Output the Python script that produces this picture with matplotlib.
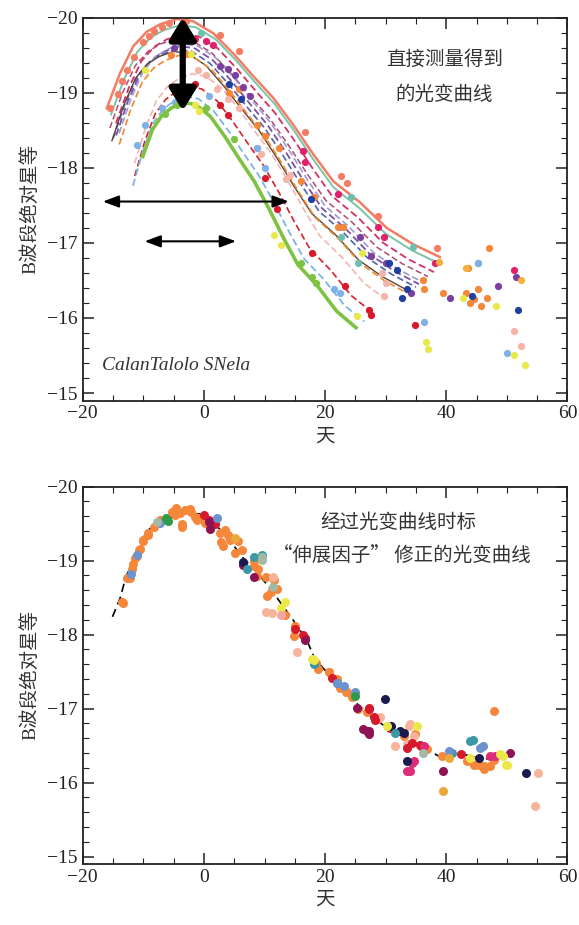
import matplotlib.pyplot as plt
from matplotlib.ticker import MultipleLocator

# ---- top panel: fitted light curves (day, B mag)
sal_day = [-16.05, -13.85, -11.65, -9.45, -7.25, -4.5, -1.75, 1.55, 4.85, 8.15, 11.45, 14.75, 18.05, 21.35, 25.75, 30.15, 34.55, 38.95]
sal_mag = [-18.79, -19.26, -19.62, -19.81, -19.91, -19.98, -19.95, -19.79, -19.52, -19.22, -18.93, -18.57, -18.18, -17.82, -17.54, -17.20, -16.98, -16.81]
teal_day = [-15.34, -13.18, -11.02, -8.86, -6.7, -4.0, -1.3, 1.94, 5.18, 8.42, 11.66, 14.9, 18.14, 21.38, 25.7, 30.02, 34.34, 38.66]
teal_mag = [-18.71, -19.18, -19.54, -19.73, -19.83, -19.9, -19.87, -19.71, -19.44, -19.14, -18.85, -18.49, -18.1, -17.74, -17.46, -17.12, -16.9, -16.73]
mag_day = [-14.53, -12.43, -10.33, -8.23, -6.13, -3.5, -0.88, 2.28, 5.43, 8.58, 11.73, 14.88, 18.03, 21.18, 25.38, 29.58, 33.78, 37.98]
mag_mag = [-18.59, -19.06, -19.42, -19.61, -19.71, -19.78, -19.75, -19.59, -19.32, -19.02, -18.73, -18.37, -17.98, -17.62, -17.34, -17.0, -16.78, -16.61]
plum_day = [-15.53, -13.43, -11.33, -9.23, -7.13, -4.5, -1.88, 1.28, 4.43, 7.58, 10.73, 13.88, 17.03, 20.18, 24.38, 28.58, 32.78, 36.98]
plum_mag = [-18.53, -19.0, -19.36, -19.55, -19.65, -19.72, -19.69, -19.53, -19.26, -18.96, -18.67, -18.31, -17.92, -17.56, -17.28, -16.94, -16.72, -16.55]
purp_day = [-14.5, -12.5, -10.5, -8.5, -6.5, -4.0, -1.5, 1.5, 4.5, 7.5, 10.5, 13.5, 16.5, 19.5, 23.5, 27.5, 31.5, 35.5]
purp_mag = [-18.43, -18.9, -19.26, -19.45, -19.55, -19.62, -19.59, -19.43, -19.16, -18.86, -18.57, -18.21, -17.82, -17.46, -17.18, -16.84, -16.62, -16.45]
blue_day = [-15.0, -13.0, -11.0, -9.0, -7.0, -4.5, -2.0, 1.0, 4.0, 7.0, 10.0, 13.0, 16.0, 19.0, 23.0, 27.0, 31.0, 35.0]
blue_mag = [-18.39, -18.86, -19.22, -19.41, -19.51, -19.58, -19.55, -19.39, -19.12, -18.82, -18.53, -18.17, -17.78, -17.42, -17.14, -16.8, -16.58, -16.41]
lav_day = [-14.0, -12.0, -10.0, -8.0, -6.0, -3.5, -1.0, 2.0, 5.0, 8.0, 11.0, 14.0, 17.0, 20.0, 24.0, 28.0, 32.0, 36.0]
lav_mag = [-18.46, -18.93, -19.29, -19.48, -19.58, -19.65, -19.62, -19.46, -19.19, -18.89, -18.6, -18.24, -17.85, -17.49, -17.21, -16.87, -16.65, -16.48]
brown_day = [-15.19, -13.25, -11.31, -9.37, -7.43, -5.0, -2.58, 0.34, 3.25, 6.16, 9.07, 11.98, 14.89, 17.8, 21.68, 25.56, 29.44, 33.32]
brown_mag = [-18.36, -18.83, -19.19, -19.38, -19.48, -19.55, -19.52, -19.36, -19.09, -18.79, -18.5, -18.14, -17.75, -17.39, -17.11, -16.77, -16.55, -16.38]
org_day = [-13.98, -12.08, -10.18, -8.28, -6.38, -4.0, -1.63, 1.23, 4.08, 6.93, 9.78, 12.63, 15.48, 18.33, 22.13, 25.93, 29.73, 33.53]
org_mag = [-18.31, -18.78, -19.14, -19.33, -19.43, -19.5, -19.47, -19.31, -19.04, -18.74, -18.45, -18.09, -17.7, -17.34, -17.06, -16.72, -16.5, -16.33]
pink_day = [-11.45, -9.65, -7.85, -6.05, -4.25, -2.0, 0.25, 2.95, 5.65, 8.35, 11.05, 13.75, 16.45, 19.15, 22.75, 26.35, 29.95]
pink_mag = [-18.06, -18.53, -18.89, -19.08, -19.18, -19.25, -19.22, -19.06, -18.79, -18.49, -18.2, -17.84, -17.45, -17.09, -16.81, -16.47, -16.25]
red_day = [-11.43, -9.73, -8.03, -6.33, -4.63, -2.5, -0.38, 2.18, 4.73, 7.28, 9.83, 12.38, 14.93, 17.48, 20.88, 24.28, 27.68]
red_mag = [-17.89, -18.36, -18.72, -18.91, -19.01, -19.08, -19.05, -18.89, -18.62, -18.32, -18.03, -17.67, -17.28, -16.92, -16.64, -16.3, -16.08]
lb_day = [-11.72, -10.06, -8.4, -6.74, -5.08, -3.0, -0.93, 1.57, 4.06, 6.55, 9.04, 11.53, 14.02, 16.51, 19.83, 23.15, 26.47]
lb_mag = [-17.76, -18.23, -18.59, -18.78, -18.88, -18.95, -18.92, -18.76, -18.49, -18.19, -17.9, -17.54, -17.15, -16.79, -16.51, -16.17, -15.95]
grn_day = [-10.1, -8.5, -6.9, -5.3, -3.3, -1.3, 1.1, 3.5, 5.9, 8.3, 10.7, 13.1, 15.5, 18.7, 21.9, 25.1]
grn_mag = [-18.15, -18.51, -18.7, -18.8, -18.87, -18.84, -18.68, -18.41, -18.11, -17.82, -17.46, -17.07, -16.71, -16.43, -16.09, -15.87]

# ---- top panel: measured points by colour
t_sal_d = [-15.5, -14.2, -13.5, -12.7, -11.5, -10.0, -9.0, -8.2, -7.0, -5.8, -3.0, 2.7, 5.8, 16.7, 22.7, 23.6, 28.8, 38.5]
t_sal_m = [-18.79, -18.98, -19.15, -19.3, -19.47, -19.67, -19.76, -19.82, -19.88, -19.93, -19.96, -19.77, -19.56, -18.48, -17.89, -17.8, -17.36, -16.93]
t_mag_d = [-1.5, 0.3, 1.5, 16.4, 16.7, 22.1, 28.8, 29.7, 38.2, 51.2]
t_mag_m = [-19.71, -19.69, -19.63, -18.22, -18.07, -17.65, -17.21, -17.08, -16.73, -16.64]
t_org_d = [4.2, 5.8, 8.8, 10.0, 12.4, 16.1, 18.2, 22.1, 23.0, 36.1, 36.4, 39.4, 43.6, 44.5, 45.2, 45.8, 46.7, 43.9, 47.0, 43.3, -5.5, -3.0]
t_org_m = [-18.99, -19.05, -18.57, -18.42, -18.26, -17.82, -17.61, -17.21, -17.21, -16.51, -16.38, -16.33, -16.66, -16.25, -16.38, -16.16, -16.27, -16.2, -16.93, -16.33, -19.5, -19.52]
t_pur_d = [2.7, 3.9, 5.2, 6.4, 7.6, 25.8, 27.6, 30.0, 34.2, 40.6, 48.5, 51.5, -5.0]
t_pur_m = [-19.36, -19.32, -19.23, -19.08, -18.96, -17.08, -16.82, -16.73, -16.33, -16.27, -16.42, -16.55, -19.6]
t_navy_d = [4.2, 6.1, 17.6, 30.6, 31.8, 32.7, 33.6, 44.2, 51.8]
t_navy_m = [-19.12, -18.92, -17.58, -16.73, -16.64, -16.27, -16.38, -16.29, -16.11]
t_red_d = [-3.3, -1.5, 2.7, 3.9, 10.0, 12.1, 17.9, 23.3, 27.3, 27.6, 34.8]
t_red_m = [-19.07, -19.12, -18.83, -18.7, -17.87, -17.45, -16.86, -16.42, -16.11, -16.04, -15.91]
t_pink_d = [0.3, 2.1, 3.9, 5.8, 8.8, 9.4, 13.6, 14.2, 29.4, 30.0, 29.7, 51.2, 52.4, -1.0]
t_pink_m = [-19.23, -19.05, -18.92, -18.79, -18.26, -18.18, -17.85, -17.91, -16.6, -16.46, -16.29, -15.83, -15.63, -19.3]
t_lb_d = [-9.7, -7.0, -4.8, 0.9, 8.8, 10.0, 21.5, 22.4, 36.4, 50.0, 45.2, -11.0]
t_lb_m = [-18.57, -18.79, -18.88, -18.96, -18.26, -18.0, -16.38, -16.33, -15.94, -15.53, -16.73, -18.3]
t_yel_d = [-2.1, -9.7, 26.1, 25.2, 36.7, 37.0, 48.2, 51.2, 53.0, 42.7, -1.5, -0.9, 11.5, 12.7]
t_yel_m = [-19.52, -19.3, -16.86, -16.03, -15.68, -15.59, -16.16, -15.5, -15.37, -16.27, -18.83, -18.75, -17.1, -16.97]
t_grn_d = [-4.5, -3.3, 0.3, 16.1, 17.9, 18.5, -6.5, 5.0]
t_grn_m = [-18.83, -18.88, -18.79, -16.73, -16.55, -16.46, -18.72, -18.38]
t_teal_d = [24.2, 34.5, 22.7, 25.5, 45.2, -0.5]
t_teal_m = [-17.61, -16.95, -17.08, -16.73, -16.73, -19.8]
t_gold_d = [38.8, 43.3, 52.4]
t_gold_m = [-16.75, -16.66, -16.51]

# ---- bottom panel: stretch-corrected template and points
tpl_day = [-15.1, -13.8, -12.9, -12.0, -11.2, -10.1, -9.2, -7.7, -6.4, -4.9, -3.6, 0.0, 2.2, 4.0, 6.5, 9.0, 11.4, 14.6, 17.0, 18.3, 21.3, 24.4, 27.5, 30.6, 33.7, 36.8, 39.3, 43.0, 46.0, 49.0]
tpl_mag = [-18.24, -18.5, -18.78, -18.94, -19.12, -19.3, -19.41, -19.52, -19.57, -19.59, -19.66, -19.62, -19.46, -19.3, -19.03, -18.82, -18.57, -18.21, -17.92, -17.67, -17.4, -17.13, -16.9, -16.72, -16.58, -16.45, -16.33, -16.38, -16.31, -16.36]

b_org_d = [-5.2, -4.6, -4.0, -3.1, -2.2, -1.5, -0.9, -3.7, 3.4, 4.0, 2.8, 6.2, 8.3, 9.0, 10.2, 11.1,
           -13.6, -12.7, -11.9, -11.3, -10.7, -10.0, -9.3, -8.3, -7.3,
           13.3, 15.1, 18.5, 20.7, 21.9, 23.5, 24.4, 26.9, 28.7, 33.0, 36.7, 40.4, 43.5, 45.4, 46.3, 47.2, 47.8, 47.8,
           -13.3, -12.2, -11.7, -11.1, -10.6, -10.0, -9.2, -4.8, -3.7, -2.3, -1.2, 0.2, 1.8, 2.6, 3.2, 4.3,
           5.1, 5.7, 8.2, 8.7, 10.4, 11.5, 12.0, 14.8, 18.9, 20.6, 22.5, 23.6, 25.5, 34.9, 36.8, 39.3, 44.5, 46.2]
b_org_m = [-19.66, -19.71, -19.64, -19.68, -19.66, -19.59, -19.57, -19.5, -19.41, -19.34, -19.25, -19.14, -19.0, -18.89, -18.78, -18.57,
           -18.44, -18.76, -18.89, -19.03, -19.14, -19.28, -19.37, -19.46, -19.55,
           -18.26, -18.12, -17.62, -17.49, -17.4, -17.22, -17.16, -16.95, -16.86, -16.63, -16.45, -16.36, -16.29, -16.24, -16.18, -16.22, -16.31, -16.97,
           -18.43, -18.77, -18.95, -19.06, -19.15, -19.26, -19.35, -19.62, -19.46, -19.69, -19.55, -19.51, -19.53, -19.37, -19.19, -19.28,
           -19.1, -19.26, -18.92, -18.79, -18.52, -18.74, -18.61, -17.98, -17.53, -17.5, -17.28, -17.23, -17.0, -16.65, -16.45, -16.36, -16.24, -16.22]
b_peach_d = [11.4, 10.2, 15.4, 34.0, 34.6, 33.6, 55.2, 54.6, 29.0, 11.2, 33.8, 31.6]
b_peach_m = [-18.78, -18.3, -17.76, -16.79, -16.63, -16.52, -16.13, -15.68, -16.88, -18.29, -16.76, -16.49]
b_red_d = [0.0, 0.9, 1.9, 15.1, 16.4, 27.2, 28.1, 34.3, 35.8, 42.5, 16.7, 21.1, 27.2, 28.3, 33.5, 35.7, 30.7]
b_red_m = [-19.62, -19.55, -19.5, -18.08, -17.99, -17.01, -16.88, -16.54, -16.49, -16.38, -17.96, -17.41, -16.99, -16.85, -16.47, -16.51, -16.74]
b_maroon_d = [0.9, 6.5, 8.3, 16.7, 25.3, 26.2, 27.2, 39.5, 50.6, 1.0, 26.9, 27.3]
b_maroon_m = [-19.52, -18.94, -18.78, -17.92, -17.01, -16.72, -16.7, -16.15, -16.4, -19.42, -16.69, -16.66]
b_mag_d = [34.0, 34.6, 48.1, 36.4, 34.3, 33.5, 47.3]
b_mag_m = [-16.15, -16.29, -16.36, -16.49, -16.26, -16.15, -16.36]
b_navy_d = [6.5, 18.2, 29.9, 30.9, 33.6, 53.1, 45.4, 33.0, 32.4]
b_navy_m = [-18.98, -17.62, -17.13, -16.76, -16.29, -16.13, -16.33, -16.67, -16.69]
b_teal_d = [8.3, 9.6, 18.2, 21.9, 31.5, 44.4, 41.0, 7.1, 44.0]
b_teal_m = [-19.05, -19.07, -17.6, -17.35, -16.67, -16.58, -16.4, -18.88, -16.56]
b_blue_d = [-11.1, -12.0, 2.2, 23.1, 46.0, 25.0, -7.3, 21.9, 40.4, 45.6]
b_blue_m = [-19.07, -18.82, -19.57, -17.31, -16.49, -17.22, -19.51, -17.35, -16.42, -16.47]
b_yel_d = [13.3, 17.9, 30.2, 35.2, 49.4, 50.0, 44.0, 12.8, 18.1, 48.9, 49.8]
b_yel_m = [-18.44, -17.67, -16.76, -16.76, -16.36, -16.24, -16.33, -18.36, -17.66, -16.38, -16.24]
b_gold_d = [5.2, 39.5, 40.4]
b_gold_m = [-19.3, -15.88, -16.33]
b_grn_d = [-6.2, 25.0, -5.9]
b_grn_m = [-19.57, -17.17, -19.53]
b_gg_d = [9.6, 11.4, -7.7, 36.1, 9.5]
b_gg_m = [-19.05, -18.64, -19.52, -16.4, -19.01]
b_pink_d = [12.7]
b_pink_m = [-18.26]

# arrows in the top panel: (x0, y0, x1, y1)
v_arrow = [-3.5, -18.76, -3.5, -20.0]
h_arrow1 = [-16.7, -17.55, 14.0, -17.55]
h_arrow2 = [-9.8, -17.02, 5.3, -17.02]

plt.rcParams['font.family'] = ['Liberation Serif', 'Noto Sans CJK SC']
cjk = ['Noto Sans CJK SC']


def setup(ax):
    ax.set_xlim(-20, 60)
    ax.set_ylim(-14.9, -20)
    ax.xaxis.set_major_locator(MultipleLocator(20))
    ax.xaxis.set_minor_locator(MultipleLocator(5))
    ax.yaxis.set_major_locator(MultipleLocator(1))
    ax.yaxis.set_minor_locator(MultipleLocator(0.2))
    ax.tick_params(which='both', direction='in', top=True, right=True, labelsize=14, colors='#222222')
    ax.tick_params(which='major', length=8, width=1.1)
    ax.tick_params(which='minor', length=4, width=0.8)
    for s in ax.spines.values():
        s.set_linewidth(1.3)
        s.set_color('#222222')
    ax.set_xlabel('天', fontsize=14, family=cjk, color='#333333', labelpad=2)
    ax.set_ylabel('B波段绝对星等', fontsize=14, color='#333333', labelpad=6)


fig = plt.figure(figsize=(5.79, 9.25), dpi=100)
ax1 = fig.add_axes([0.143, 0.567, 0.837, 0.414])
ax2 = fig.add_axes([0.143, 0.066, 0.837, 0.408])

# top panel curves
curves = [
    (sal_day, sal_mag, '#F27D64', '-', 1.8),
    (teal_day, teal_mag, '#7CC4A6', '-', 1.4),
    (mag_day, mag_mag, '#D63060', '--', 1.3),
    (plum_day, plum_mag, '#B04A78', '--', 1.1),
    (purp_day, purp_mag, '#7B4FA8', '--', 1.3),
    (blue_day, blue_mag, '#5062B0', '--', 1.2),
    (lav_day, lav_mag, '#9C9CD2', '--', 1.2),
    (brown_day, brown_mag, '#5A4535', '-', 1.0),
    (org_day, org_mag, '#F0882E', '--', 1.2),
    (pink_day, pink_mag, '#F5B5B0', '--', 1.2),
    (red_day, red_mag, '#D81E2A', '--', 1.2),
    (lb_day, lb_mag, '#7DB3E6', '--', 1.3),
    (grn_day, grn_mag, '#7DC242', '-', 2.6),
]
for d, m, c, ls, lw in curves:
    ax1.plot(d, m, color=c, ls=ls, lw=lw, dashes=(4, 2) if ls == '--' else (None, None))

top_pts = [
    (t_sal_d, t_sal_m, '#F27D64'), (t_teal_d, t_teal_m, '#6DBFB0'),
    (t_org_d, t_org_m, '#F4873A'), (t_pur_d, t_pur_m, '#7B3FA0'),
    (t_navy_d, t_navy_m, '#2040A0'), (t_red_d, t_red_m, '#D7192D'),
    (t_pink_d, t_pink_m, '#F6B3AA'), (t_lb_d, t_lb_m, '#7FB0E8'),
    (t_yel_d, t_yel_m, '#E8E84A'), (t_grn_d, t_grn_m, '#7DC242'),
    (t_mag_d, t_mag_m, '#E0206A'), (t_gold_d, t_gold_m, '#F5B040'),
]
for d, m, c in top_pts:
    ax1.plot(d, m, 'o', color=c, ms=5.2, mec='none')

arr_big = dict(arrowstyle='<|-|>,head_width=0.4,head_length=0.65', lw=4.5, color='k',
               mutation_scale=20, shrinkA=0, shrinkB=0)
ax1.annotate('', xy=(v_arrow[2], v_arrow[3]), xytext=(v_arrow[0], v_arrow[1]), arrowprops=arr_big)
arr_small = dict(arrowstyle='<|-|>,head_width=0.3,head_length=0.8', lw=1.5, color='k',
                 mutation_scale=12, shrinkA=0, shrinkB=0)
for a in [h_arrow1, h_arrow2]:
    ax1.annotate('', xy=(a[2], a[3]), xytext=(a[0], a[1]), arrowprops=arr_small)

ax1.text(39.7, -19.44, '直接测量得到', family=cjk, fontsize=14, color='#333333', ha='center', va='center')
ax1.text(39.7, -18.97, '的光变曲线', family=cjk, fontsize=14, color='#333333', ha='center', va='center')
ax1.text(-16.8, -15.37, 'CalanTalolo SNela', style='italic', fontsize=14, color='#333333', va='center')
setup(ax1)

# bottom panel
ax2.plot(tpl_day, tpl_mag, color='k', ls='--', lw=1.2, dashes=(5, 3))
bot_pts = [
    (b_org_d, b_org_m, '#F4873A'), (b_peach_d, b_peach_m, '#F7B49A'),
    (b_red_d, b_red_m, '#D7192D'), (b_maroon_d, b_maroon_m, '#8E1355'),
    (b_mag_d, b_mag_m, '#DD2C78'), (b_navy_d, b_navy_m, '#1B1A4E'),
    (b_teal_d, b_teal_m, '#3C98A4'), (b_blue_d, b_blue_m, '#6C93CF'),
    (b_yel_d, b_yel_m, '#EDE84A'), (b_gold_d, b_gold_m, '#EAAA3A'),
    (b_grn_d, b_grn_m, '#2F9A48'), (b_gg_d, b_gg_m, '#A4B8A4'),
    (b_pink_d, b_pink_m, '#F3A6A3'),
]
for d, m, c in bot_pts:
    ax2.plot(d, m, 'o', color=c, ms=6.5, mec='none')

ax2.text(32.1, -19.52, '经过光变曲线时标', family=cjk, fontsize=14, color='#333333', ha='center', va='center')
ax2.text(32.7, -19.07, '“伸展因子” 修正的光变曲线', family=cjk, fontsize=14, color='#333333', ha='center', va='center')
setup(ax2)

fig.savefig('out.png', dpi=100)
